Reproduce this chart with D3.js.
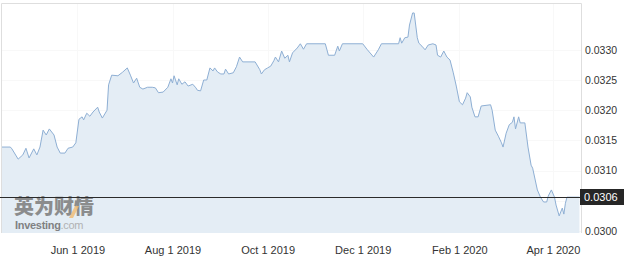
<!DOCTYPE html>
<html>
<head>
<meta charset="utf-8">
<script src="https://cdn.jsdelivr.net/npm/d3@7"></script>
<style>
  body { margin: 0; background: #fff; }
  svg { display: block; font-family: Arial, "Liberation Sans", sans-serif; }
</style>
</head>
<body>
<svg></svg>
<script>
const dates = [
  "2019-04-13","2019-04-19","2019-04-20","2019-04-24","2019-04-27","2019-04-29","2019-05-01","2019-05-04","2019-05-06","2019-05-08",
  "2019-05-10","2019-05-12","2019-05-14","2019-05-17","2019-05-19","2019-05-21","2019-05-24","2019-05-26","2019-05-29","2019-05-31",
  "2019-06-02","2019-06-04","2019-06-05","2019-06-07","2019-06-09","2019-06-11","2019-06-14","2019-06-15","2019-06-17","2019-06-20",
  "2019-06-21","2019-06-23","2019-06-27","2019-06-30","2019-07-03","2019-07-05","2019-07-07","2019-07-09","2019-07-11","2019-07-13",
  "2019-07-16","2019-07-19","2019-07-21","2019-07-23","2019-07-26","2019-07-29","2019-07-31","2019-08-01","2019-08-02","2019-08-04",
  "2019-08-05","2019-08-07","2019-08-09","2019-08-11","2019-08-14","2019-08-16","2019-08-17","2019-08-19","2019-08-21","2019-08-23",
  "2019-08-25","2019-08-27","2019-08-28","2019-08-30","2019-09-01","2019-09-03","2019-09-04","2019-09-06","2019-09-09","2019-09-11",
  "2019-09-13","2019-09-15","2019-09-23","2019-09-26","2019-09-27","2019-09-29","2019-10-01","2019-10-03","2019-10-05","2019-10-06",
  "2019-10-08","2019-10-10","2019-10-12","2019-10-14","2019-10-15","2019-10-17","2019-10-20","2019-10-22","2019-10-24","2019-10-26",
  "2019-11-07","2019-11-09","2019-11-13","2019-11-15","2019-11-16","2019-11-18","2019-12-01","2019-12-04","2019-12-08","2019-12-11",
  "2019-12-13","2019-12-24","2019-12-25","2019-12-26","2019-12-28","2019-12-30","2019-12-31","2020-01-02","2020-01-03","2020-01-05",
  "2020-01-06","2020-01-08","2020-01-10","2020-01-12","2020-01-15","2020-01-17","2020-01-18","2020-01-20","2020-01-22","2020-01-24",
  "2020-01-26","2020-01-28","2020-01-30","2020-02-01","2020-02-03","2020-02-05","2020-02-06","2020-02-08","2020-02-09","2020-02-11",
  "2020-02-13","2020-02-15","2020-02-21","2020-02-22","2020-02-24","2020-02-26","2020-02-28","2020-02-29","2020-03-02","2020-03-04",
  "2020-03-06","2020-03-07","2020-03-08","2020-03-10","2020-03-11","2020-03-14","2020-03-16","2020-03-18","2020-03-19","2020-03-22",
  "2020-03-24","2020-03-26","2020-03-28","2020-03-29","2020-03-31","2020-04-02","2020-04-03","2020-04-05","2020-04-07","2020-04-08",
  "2020-04-09","2020-04-10","2020-04-18"
];

const rates = [
  0.03139,0.03139,0.03136,0.03119,0.03126,0.03137,0.03121,0.03136,0.03126,0.03139,
  0.03167,0.03159,0.03169,0.03159,0.03139,0.03129,0.03129,0.03137,0.03139,0.03146,
  0.03185,0.03189,0.03184,0.03195,0.03190,0.03197,0.03205,0.03197,0.03187,0.03200,
  0.03242,0.03258,0.03257,0.03263,0.03270,0.03258,0.03245,0.03253,0.03238,0.03235,
  0.03238,0.03238,0.03237,0.03229,0.03230,0.03238,0.03252,0.03245,0.03257,0.03242,
  0.03252,0.03243,0.03247,0.03240,0.03243,0.03237,0.03233,0.03232,0.03250,0.03250,
  0.03270,0.03265,0.03270,0.03263,0.03260,0.03260,0.03268,0.03260,0.03262,0.03272,
  0.03288,0.03280,0.03280,0.03267,0.03260,0.03267,0.03270,0.03273,0.03282,0.03288,
  0.03280,0.03298,0.03286,0.03291,0.03280,0.03295,0.03303,0.03310,0.03301,0.03310,
  0.03310,0.03291,0.03291,0.03306,0.03298,0.03310,0.03310,0.03300,0.03288,0.03300,
  0.03310,0.03310,0.03320,0.03311,0.03320,0.03321,0.03341,0.03361,0.03361,0.03320,
  0.03311,0.03306,0.03300,0.03308,0.03310,0.03308,0.03291,0.03288,0.03298,0.03288,
  0.03283,0.03263,0.03240,0.03214,0.03209,0.03220,0.03229,0.03222,0.03205,0.03189,
  0.03189,0.03207,0.03209,0.03200,0.03167,0.03157,0.03146,0.03139,0.03162,0.03176,
  0.03180,0.03189,0.03169,0.03189,0.03179,0.03179,0.03139,0.03109,0.03104,0.03068,
  0.03056,0.03048,0.03048,0.03058,0.03068,0.03056,0.03043,0.03025,0.03038,0.03028,
  0.03046,0.03056,0.03056
];

const y_ticks = [0.0300, 0.0305, 0.0310, 0.0315, 0.0320, 0.0325, 0.0330];
const x_ticks = ["2019-06-01", "2019-08-01", "2019-10-01", "2019-12-01", "2020-02-01", "2020-04-01"];
const x_domain = ["2019-04-13", "2020-04-19"];
const y_domain = [0.029967, 0.033775];

const width = 624, height = 262;
const margin = { left: 1, right: 43, top: 3, bottom: 29 };

const parse = d3.utcParse("%Y-%m-%d");
const data = dates.map((d, i) => ({ date: parse(d), rate: rates[i] }));

const svg = d3.select("svg").attr("width", width).attr("height", height)
  .attr("viewBox", [0, 0, width, height]);

const x_scale = d3.scaleUtc()
  .domain(x_domain.map(parse))
  .range([margin.left, width - margin.right]);
const y_scale = d3.scaleLinear()
  .domain(y_domain)
  .range([height - margin.bottom, margin.top]);

const plot_bottom = height - margin.bottom;
const plot_right = width - margin.right;

// very faint grid, barely there in the original
const grid = svg.append("g").attr("stroke", "#f8f8f8").attr("stroke-width", 1);
grid.selectAll("line.h").data(y_ticks).join("line")
  .attr("x1", margin.left).attr("x2", plot_right)
  .attr("y1", d => Math.round(y_scale(d)) + 0.5).attr("y2", d => Math.round(y_scale(d)) + 0.5);
grid.selectAll("line.v").data(x_ticks.map(parse)).join("line")
  .attr("x1", d => Math.round(x_scale(d)) + 0.5).attr("x2", d => Math.round(x_scale(d)) + 0.5)
  .attr("y1", margin.top).attr("y2", plot_bottom);

// area + line
const area = d3.area()
  .x(d => x_scale(d.date))
  .y0(plot_bottom)
  .y1(d => y_scale(d.rate));
const line = d3.line()
  .x(d => x_scale(d.date))
  .y(d => y_scale(d.rate));

svg.append("path").attr("fill", "#e4edf5").attr("d", area(data));
svg.append("path")
  .attr("fill", "none")
  .attr("stroke", "#8eafd4")
  .attr("stroke-width", 1)
  .attr("stroke-linejoin", "round")
  .attr("d", line(data));

// border
svg.append("path")
  .attr("fill", "none")
  .attr("stroke", "#dedede")
  .attr("d", `M${margin.left + 0.5},${plot_bottom}V${margin.top + 0.5}H${plot_right + 0.5}V${plot_bottom}`);

// watermark
const wm = svg.append("g").attr("opacity", 0.85);
wm.append("text")
  .attr("x", 14).attr("y", 214)
  .attr("font-family", "'Noto Sans CJK SC'")
  .attr("font-weight", 900)
  .attr("font-size", 20)
  .attr("fill", "#7c7c7c")
  .text("英为财情");
wm.append("path")
  .attr("d", "M69,218 L75,206 L79,206 L73,218 Z")
  .attr("fill", "#f2b15a").attr("opacity", 0.8);
const inv = wm.append("text")
  .attr("x", 15).attr("y", 229)
  .attr("font-size", 11)
  .attr("letter-spacing", -0.3);
inv.append("tspan").attr("font-weight", "bold").attr("fill", "#6f6f6f").text("Investing");
inv.append("tspan").attr("fill", "#a8a8a8").text(".com");

// x axis
const x_axis = d3.axisBottom(x_scale)
  .tickValues(x_ticks.map(parse))
  .tickFormat(d3.utcFormat("%b %-d %Y"))
  .tickSize(0)
  .tickPadding(13);
svg.append("g")
  .attr("transform", `translate(0,${plot_bottom})`)
  .call(x_axis)
  .call(g => g.select(".domain").remove())
  .call(g => g.selectAll("text").attr("fill", "#333").attr("font-size", 11).attr("font-family", "Arial"));

// y axis
const y_axis = d3.axisRight(y_scale)
  .tickValues(y_ticks)
  .tickFormat(d3.format(".4f"))
  .tickSize(0)
  .tickPadding(4);
svg.append("g")
  .attr("transform", `translate(${plot_right},0)`)
  .call(y_axis)
  .call(g => g.select(".domain").remove())
  .call(g => g.selectAll("text").attr("fill", "#333").attr("font-size", 10.5).attr("font-family", "Arial"));

// current price line + label
const last_rate = rates[rates.length - 1];
const y_last = Math.round(y_scale(last_rate)) + 0.5;
svg.append("line")
  .attr("x1", 0).attr("x2", plot_right)
  .attr("y1", y_last).attr("y2", y_last)
  .attr("stroke", "#2b2b2b").attr("stroke-width", 1.2);
svg.append("rect")
  .attr("x", plot_right - 1).attr("y", y_last - 8.5)
  .attr("width", width - plot_right + 1).attr("height", 16)
  .attr("fill", "#262626");
svg.append("text")
  .attr("x", plot_right + 3).attr("y", y_last)
  .attr("dy", "0.35em")
  .attr("fill", "#fff")
  .attr("font-size", 11)
  .text(d3.format(".4f")(last_rate));
</script>
</body>
</html>
